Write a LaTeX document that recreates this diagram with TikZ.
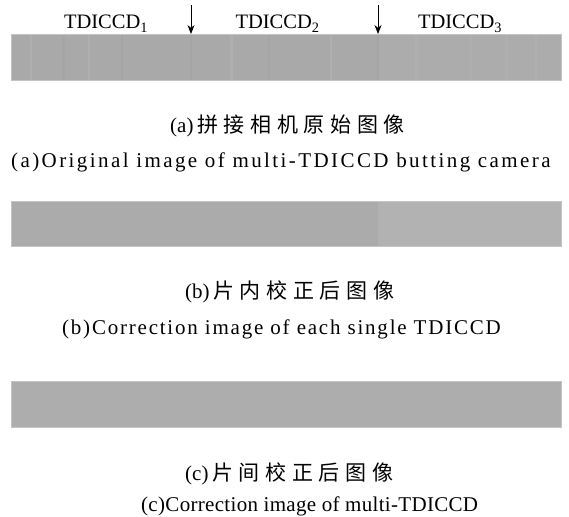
\documentclass[tikz,border=0pt]{standalone}
\usepackage{fontspec}
\setmainfont{Liberation Serif}
\newfontfamily\cjkls[LetterSpace=27]{Noto Sans CJK SC}
\newfontfamily\enA[LetterSpace=11.5]{Liberation Serif}
\newfontfamily\enB[LetterSpace=8.5]{Liberation Serif}
\newfontfamily\enC[LetterSpace=1.5]{Liberation Serif}
\usetikzlibrary{arrows.meta}
\definecolor{barA}{HTML}{A9A9A9}
\definecolor{barAr}{HTML}{ACACAC}
\definecolor{barB}{HTML}{ABABAB}
\definecolor{barBr}{HTML}{B2B2B2}
\definecolor{barC}{HTML}{ADADAD}
\definecolor{stripeD}{HTML}{A5A5A5}
\definecolor{stripeL}{HTML}{AFAFAF}
\definecolor{edge}{HTML}{C4C4C4}
\begin{document}
\begin{tikzpicture}[x=1pt,y=-1pt,
  lbl/.style={anchor=base,inner sep=0pt,font=\fontsize{20.5}{24}\selectfont},
  zh/.style={anchor=base west,inner sep=0pt,font=\fontsize{21}{24}\selectfont},
  en/.style={anchor=base west,inner sep=0pt},
  marker/.style={draw=black,line width=0.8pt,-{Stealth[length=9pt,width=7pt]}}]
\useasboundingbox (0,0) rectangle (569,516);
% bar (a)
\fill[barA] (11,34) rectangle (561,80);
\fill[barAr] (378,34) rectangle (561,80);
\foreach \x/\c/\w in {30/stripeL/2,62/stripeD/3,88/stripeL/2,121/stripeD/2,190/stripeD/2,230/stripeL/3,268/stripeD/2,330/stripeL/2,377/stripeD/2,415/stripeL/3,470/stripeL/2,505/stripeL/3,535/stripeL/2}{
  \fill[\c] (\x,34) rectangle (\x+\w,80);}
\draw[edge,line width=0.6pt] (11,34) rectangle (561,80);
% bar (b)
\fill[barB] (11,201) rectangle (561,246);
\fill[barBr] (378,201) rectangle (561,246);
\draw[edge,line width=0.6pt] (11,201) rectangle (561,246);
% bar (c)
\fill[barC] (11,381) rectangle (561,427);
\draw[edge,line width=0.6pt] (11,381) rectangle (561,427);
% labels
\node[lbl] (t1) at (106,29) {TDICCD\textsubscript{1}};
\node[lbl] (t2) at (277.5,29) {TDICCD\textsubscript{2}};
\node[lbl] (t3) at (460,29) {TDICCD\textsubscript{3}};
\coordinate (a1s) at (191,5);
\coordinate (a1e) at (191,34);
\coordinate (a2s) at (378,5);
\coordinate (a2e) at (378,34);
\draw[marker] (a1s) -- (a1e);
\draw[marker] (a2s) -- (a2e);
% captions
\node[zh] (ca) at (170,132) {(a)\,\cjkls 拼接相机原始图像};
\node[en] (ea) at (11,167) {\fontsize{21}{24}\enA (a)Original image of multi-TDICCD butting camera};
\node[zh] (cb) at (185,298) {(b)\,\cjkls 片内校正后图像};
\node[en] (eb) at (62,334) {\fontsize{21}{24}\enB (b)Correction image of each single TDICCD};
\node[zh] (cc) at (185,480) {(c)\,\cjkls 片间校正后图像};
\node[en] (ec) at (141,511) {\fontsize{21}{24}\enC (c)Correction image of multi-TDICCD};
\end{tikzpicture}
\end{document}
